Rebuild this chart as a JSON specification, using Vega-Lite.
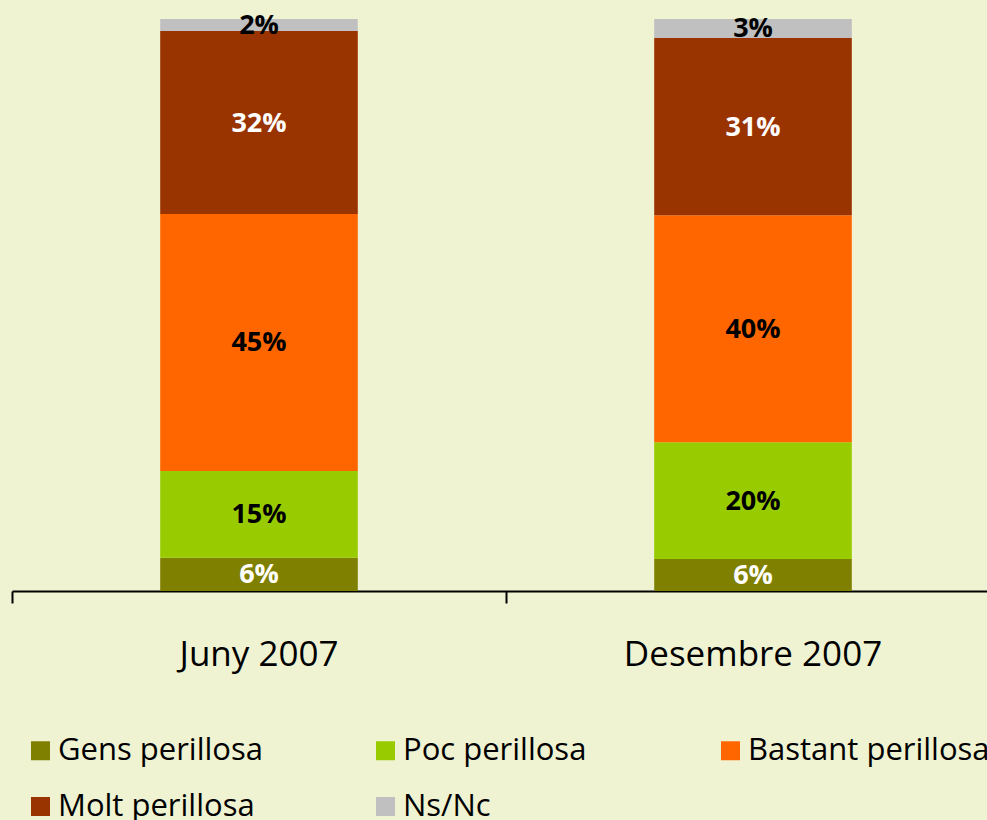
{
  "$schema": "https://vega.github.io/schema/vega-lite/v6.json",
  "width": 988,
  "height": 572,
  "autosize": "none",
  "padding": {"left": 12, "top": 19, "right": 0, "bottom": 229},
  "background": "#EFF3D1",
  "config": {"view": {"stroke": null}},
  "data": {"values": [
    {"period": "Juny 2007", "cat": "Gens perillosa", "order": 1, "value": 0.058},
    {"period": "Juny 2007", "cat": "Poc perillosa", "order": 2, "value": 0.152},
    {"period": "Juny 2007", "cat": "Bastant perillosa", "order": 3, "value": 0.449},
    {"period": "Juny 2007", "cat": "Molt perillosa", "order": 4, "value": 0.320},
    {"period": "Juny 2007", "cat": "Ns/Nc", "order": 5, "value": 0.021},
    {"period": "Desembre 2007", "cat": "Gens perillosa", "order": 1, "value": 0.056},
    {"period": "Desembre 2007", "cat": "Poc perillosa", "order": 2, "value": 0.204},
    {"period": "Desembre 2007", "cat": "Bastant perillosa", "order": 3, "value": 0.397},
    {"period": "Desembre 2007", "cat": "Molt perillosa", "order": 4, "value": 0.310},
    {"period": "Desembre 2007", "cat": "Ns/Nc", "order": 5, "value": 0.033}
  ]},
  "encoding": {
    "x": {
      "field": "period", "type": "nominal", "sort": null,
      "scale": {"paddingInner": 0.6, "paddingOuter": 0.3},
      "axis": {
        "title": null, "labelAngle": 0, "bandPosition": -0.75,
        "domainColor": "black", "tickColor": "black", "domainWidth": 2, "tickWidth": 2,
        "tickSize": 12, "labelFont": "Open Sans", "labelFontSize": 35, "labelColor": "black",
        "labelPadding": 34, "labelLimit": 600
      }
    }
  },
  "layer": [
    {
      "mark": {"type": "bar"},
      "encoding": {
        "y": {"field": "value", "type": "quantitative", "stack": "zero", "scale": {"domain": [0, 1]}, "axis": null},
        "order": {"field": "order", "type": "quantitative"},
        "color": {
          "field": "cat", "type": "nominal",
          "scale": {
            "domain": ["Gens perillosa", "Poc perillosa", "Bastant perillosa", "Molt perillosa", "Ns/Nc"],
            "range": ["#808000", "#99CC00", "#FF6600", "#993300", "#C0C0C0"]
          },
          "legend": {
            "title": null, "orient": "none", "legendX": 13, "legendY": 716,
            "direction": "horizontal", "columns": 3, "gridAlign": "all",
            "columnPadding": 70, "rowPadding": 24, "padding": 0,
            "symbolType": "square", "symbolSize": 361, "symbolStrokeWidth": 0, "symbolOpacity": 1,
            "labelFont": "Open Sans", "labelFontSize": 31, "labelColor": "black",
            "labelOffset": 2, "labelLimit": 500
          }
        }
      }
    },
    {
      "mark": {"type": "text", "font": "Open Sans", "fontWeight": "bold", "fontSize": 27, "baseline": "middle", "dy": 1},
      "encoding": {
        "y": {"field": "value", "type": "quantitative", "stack": "zero", "bandPosition": 0.5},
        "order": {"field": "order", "type": "quantitative"},
        "text": {"field": "value", "type": "quantitative", "format": ".0%"},
        "color": {
          "condition": {"test": "datum.cat === 'Gens perillosa' || datum.cat === 'Molt perillosa'", "value": "white"},
          "value": "black"
        }
      }
    }
  ]
}
